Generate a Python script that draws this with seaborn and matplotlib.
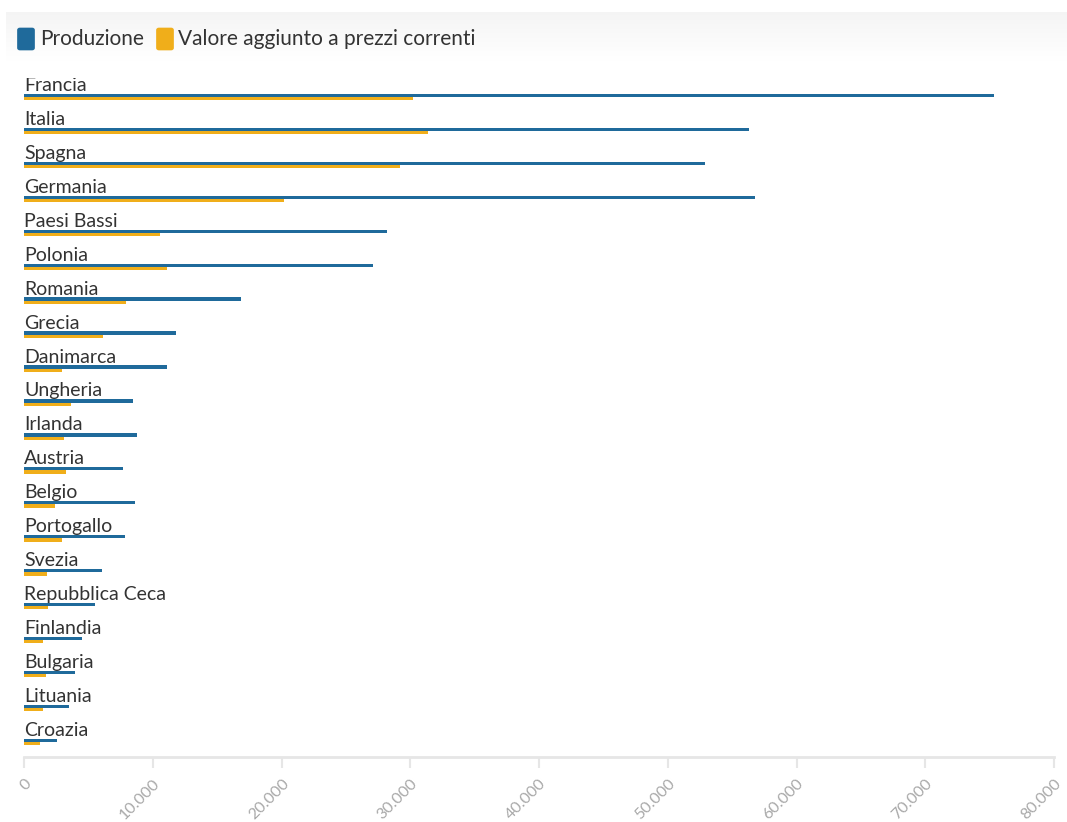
import matplotlib
matplotlib.use("Agg")
import matplotlib.pyplot as plt
from matplotlib.patches import FancyBboxPatch
from matplotlib.ticker import FuncFormatter
import numpy as np
import pandas as pd
import seaborn as sns

# values (milioni di euro)
paesi = ["Francia", "Italia", "Spagna", "Germania", "Paesi Bassi", "Polonia",
         "Romania", "Grecia", "Danimarca", "Ungheria", "Irlanda", "Austria",
         "Belgio", "Portogallo", "Svezia", "Repubblica Ceca", "Finlandia",
         "Bulgaria", "Lituania", "Croazia"]
produzione = [75300, 56300, 52900, 56800, 28200, 27100, 16800, 11800, 11100,
              8450, 8750, 7700, 8600, 7850, 6050, 5500, 4500, 3950, 3500, 2550]
valore_aggiunto = [30200, 31400, 29200, 20200, 10550, 11050, 7900, 6150, 2950,
                   3650, 3100, 3250, 2350, 2950, 1800, 1850, 1450, 1650, 1450, 1250]
serie = ["Produzione", "Valore aggiunto a prezzi correnti"]
colori = ["#1f6a9b", "#f0ae1a"]
x_ticks = [0, 10000, 20000, 30000, 40000, 50000, 60000, 70000, 80000]

df = pd.DataFrame({
    "paese": paesi * 2,
    "valore": produzione + valore_aggiunto,
    "serie": [serie[0]] * len(paesi) + [serie[1]] * len(paesi),
})

sns.set_style("white")
plt.rcParams["font.family"] = ["Lato", "DejaVu Sans"]

fig = plt.figure(figsize=(10.67, 8.22), dpi=100)
W, H = 1067, 822

# soft grey card header at the top
grad_ax = fig.add_axes([6 / W, 1 - 62 / H, 1 - 6 / W, 50 / H])
grad = np.linspace(0.09, 0.0, 64).reshape(-1, 1)
grad_ax.imshow(grad, aspect="auto", cmap="Greys", vmin=0, vmax=1,
               extent=[0, 1, 0, 1], interpolation="bicubic")
grad_ax.set_axis_off()

ax = fig.add_axes([24.3 / W, 65 / H, (1054 - 24.3) / W, (757 - 78) / H])
sns.barplot(data=df, y="paese", x="valore", hue="serie", order=paesi,
            hue_order=serie, palette=colori, orient="h", width=0.19,
            linewidth=0, saturation=1, legend=False, ax=ax)

ax.set_xlim(0, 80000)
ax.set_ylim(len(paesi) - 0.56, -0.56)

for i, nome in enumerate(paesi):
    ax.text(0, i - 0.18, nome, ha="left", va="baseline", fontsize=14,
            color="#333333", clip_on=True)

ax.set_yticks([])
ax.set_ylabel("")
ax.set_xlabel("")
ax.set_xticks(x_ticks)
ax.xaxis.set_major_formatter(FuncFormatter(lambda v, p: f"{v:,.0f}".replace(",", ".")))
for lab in ax.get_xticklabels():
    lab.set_rotation(45)
    lab.set_ha("right")
    lab.set_rotation_mode("anchor")
ax.tick_params(axis="x", length=8, width=1.5, color="#e6e6e6", labelsize=11.5,
               labelcolor="#a8a8a8", pad=6, bottom=True)
for side in ["top", "right", "left"]:
    ax.spines[side].set_visible(False)
ax.spines["bottom"].set_color("#e6e6e6")
ax.spines["bottom"].set_linewidth(2)

# legend with rounded swatches
legend_items = [(18, 40, serie[0], colori[0]), (157, 178, serie[1], colori[1])]
for x0, xt, testo, col in legend_items:
    fig.patches.append(FancyBboxPatch(((x0 + 2) / W, 1 - 48 / H), 12 / W, 18 / H,
                                      boxstyle="round,pad=0.002",
                                      transform=fig.transFigure,
                                      facecolor=col, edgecolor=col))
    fig.text(xt / W, 1 - 39 / H, testo, ha="left", va="center", fontsize=15,
             color="#333333")

fig.savefig("out.png", dpi=100)
